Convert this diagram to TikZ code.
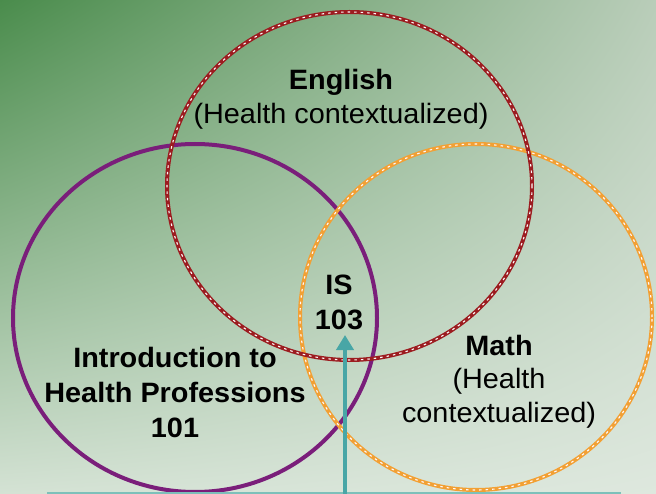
\documentclass[tikz,border=0pt]{standalone}
\usepackage{fontspec}
\setmainfont{Liberation Sans}[FakeStretch=1.03]
\usetikzlibrary{arrows.meta,shadings}
\definecolor{engred}{RGB}{156,28,32}
\definecolor{mathor}{RGB}{242,160,52}
\definecolor{intpur}{RGB}{122,30,122}
\definecolor{arrteal}{RGB}{72,166,166}
\definecolor{lineteal}{RGB}{125,192,186}
\definecolor{bgUL}{RGB}{74,140,76}
\definecolor{bgUR}{RGB}{185,205,185}
\definecolor{bgLL}{RGB}{212,226,212}
\definecolor{bgLR}{RGB}{222,232,222}
\begin{document}
\begin{tikzpicture}[x=1pt,y=-1pt,
  lbl/.style={align=center, inner sep=0pt, anchor=base, text=black,
    font=\fontsize{28}{34}\selectfont},
  ring/.style={line width=4pt, draw=#1},
  stitch/.style={draw=white!90!pink, line width=1.1pt, dash pattern=on 2.5pt off 4pt},
  feed/.style={draw=arrteal, line width=4.5pt, -{Triangle[width=17pt,length=15pt]}}]
\useasboundingbox (0,0) rectangle (656,494);
\shade[upper left=bgUL, upper right=bgUR, lower left=bgLL, lower right=bgLR]
  (0,0) rectangle (656,494);
% circles
\coordinate (cInt) at (195,318);
\coordinate (cMath) at (476,317);
\coordinate (cEng) at (349.5,186);
\draw[ring=intpur] (cInt) ellipse [x radius=182pt, y radius=174pt];
\draw[ring=mathor] (cMath) ellipse [x radius=176pt, y radius=173pt];
\draw[stitch] (cMath) ellipse [x radius=176pt, y radius=173pt];
\draw[ring=engred] (cEng) ellipse [x radius=182.5pt, y radius=174pt];
\draw[stitch] (cEng) ellipse [x radius=182.5pt, y radius=174pt];
% labels (anchor = baseline of the last line)
\node[lbl] (eng) at (341,124) {\textbf{English}\\(Health contextualized)};
\node[lbl, font=\fontsize{28}{35}\selectfont\bfseries] (is) at (339,330) {IS\\103};
\node[lbl, font=\fontsize{28}{35}\selectfont\bfseries] (intro) at (175,437) {Introduction to\\Health Professions\\101};
\node[lbl, font=\fontsize{28}{33.5}\selectfont] (math) at (499,422) {\textbf{Math}\\(Health\\contextualized)};
% arrow and base line
\coordinate (base) at (345,494);
\coordinate (tip) at (345,335);
\coordinate (bl) at (47,493);
\coordinate (br) at (621,493);
\draw[lineteal, line width=3pt] (bl) -- (br);
\draw[feed] (base) -- (tip);
\end{tikzpicture}
\end{document}
